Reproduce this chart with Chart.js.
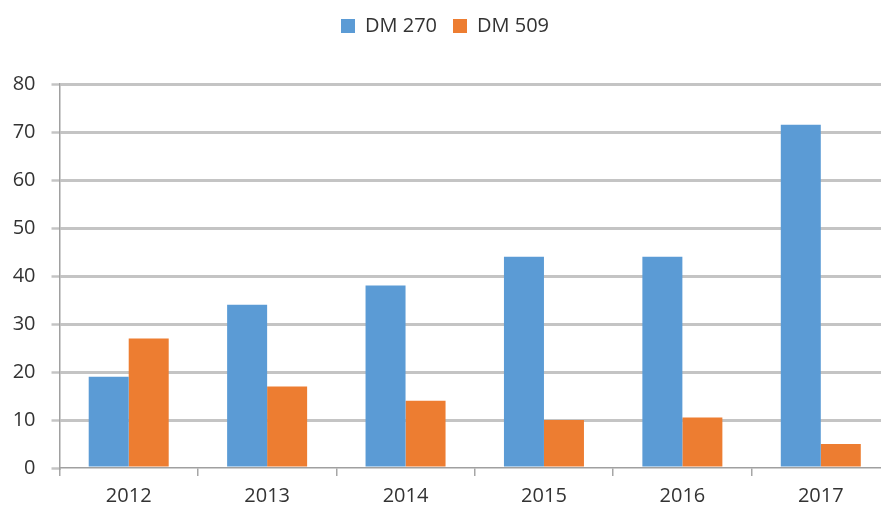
<!DOCTYPE html>
<html>
<head>
<meta charset="utf-8">
<script src="https://cdn.jsdelivr.net/npm/chart.js@4"></script>
<style>
html,body{margin:0;padding:0;background:#fff;overflow:hidden;width:881px;height:510px;}
canvas{display:block;}
</style>
</head>
<body>
<canvas id="c" width="900" height="510"></canvas>
<script>
const categories = ["2012", "2013", "2014", "2015", "2016", "2017"];
const dm270 = [19, 34, 38, 44, 44, 71.5];
const dm509 = [27, 17, 14, 10, 10.5, 5];
const seriesNames = ["DM 270", "DM 509"];
const yTicks = [0, 10, 20, 30, 40, 50, 60, 70, 80];

const FONT = "'Open Sans', 'Noto Sans', sans-serif";
const TEXT = "#333333";

const legendGap = {
  id: 'legendGap',
  beforeInit(chart) {
    const orig = chart.legend.fit;
    chart.legend.fit = function () {
      orig.call(this);
      this.height += 38;
    };
  }
};

new Chart(document.getElementById('c'), {
  type: 'bar',
  data: {
    labels: categories,
    datasets: [
      { label: seriesNames[0], data: dm270, backgroundColor: '#5B9BD5', borderWidth: 0 },
      { label: seriesNames[1], data: dm509, backgroundColor: '#ED7D31', borderWidth: 0 }
    ]
  },
  plugins: [legendGap],
  options: {
    responsive: false,
    animation: false,
    devicePixelRatio: 1,
    categoryPercentage: 0.578,
    barPercentage: 1,
    layout: { padding: { left: 0, right: 10, top: 0, bottom: 0 } },
    plugins: {
      tooltip: { enabled: false },
      legend: {
        position: 'top',
        labels: {
          font: { family: FONT, size: 20 },
          color: TEXT,
          boxWidth: 14,
          boxHeight: 14,
          padding: 16
        }
      }
    },
    scales: {
      x: {
        grid: {
          drawOnChartArea: false,
          drawTicks: true,
          tickLength: 8,
          color: '#a6a6a6',
          lineWidth: 1.5,
          offset: true
        },
        border: { color: '#a0a0a0', width: 1.5 },
        ticks: {
          font: { family: FONT, size: 20 },
          color: TEXT,
          padding: 8,
          maxRotation: 0
        },
        afterFit: s => { s.height = 42; }
      },
      y: {
        min: 0,
        max: 80,
        afterBuildTicks: s => { s.ticks = yTicks.map(v => ({ value: v })); },
        grid: {
          color: ctx => (ctx.tick && ctx.tick.value === 0) ? 'rgba(0,0,0,0)' : '#c4c4c4',
          lineWidth: 3,
          tickLength: 8,
          tickColor: '#c4c4c4',
          tickWidth: 2.5
        },
        border: { color: '#a0a0a0', width: 1.5 },
        ticks: {
          font: { family: FONT, size: 20 },
          color: TEXT,
          padding: 16
        },
        afterFit: s => { s.width = 59.5; }
      }
    }
  }
});
</script>
</body>
</html>
